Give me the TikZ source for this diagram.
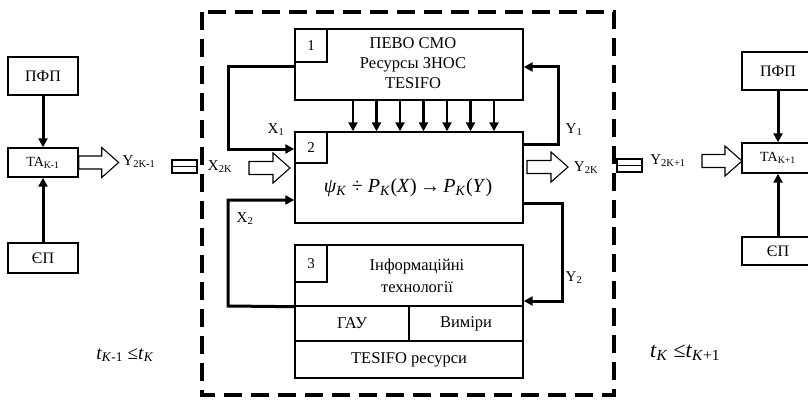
\documentclass[tikz,border=0pt]{standalone}
\usepackage{fontspec}
\setmainfont{Liberation Serif}
\usetikzlibrary{arrows.meta,calc}
\tikzset{
  box/.style={draw, line width=1.4pt, inner sep=0pt},
  fb/.style={line width=3pt, -{Triangle[width=9pt,length=9pt]}},
  lbl/.style={font=\fontsize{15}{17}\selectfont, inner sep=0pt},
  boxtext/.style={font=\fontsize{16.5}{20}\selectfont, align=center, inner sep=0pt},
  pics/harrow/.style={code={\draw[line width=1.1pt, fill=white]
    (0,-6.5) -- (#1-17,-6.5) -- (#1-17,-15) -- (#1,0) -- (#1-17,15) -- (#1-17,6.5) -- (0,6.5) -- cycle;}},
  pics/dconn/.style={code={\draw[line width=1.4pt] (0,0) rectangle (25,13); \draw[line width=1.4pt] (0,6.5) -- (25,6.5);}}
}
\begin{document}
\begin{tikzpicture}[x=1pt,y=-1pt]
\useasboundingbox (0,0) rectangle (808,401);
% dashed frame
\draw[line width=3.8pt, dash pattern=on 18pt off 9pt] (202,12) rectangle (614,395);

% left chain
\node[box, minimum width=70pt, minimum height=38pt, font=\fontsize{16}{18}\selectfont] (pfpL) at (43,76) {ПФП};
\node[box, minimum width=70pt, minimum height=29pt, font=\fontsize{14}{16}\selectfont] (taL) at (43,162.5) {TA\textsubscript{K-1}};
\node[box, minimum width=70pt, minimum height=30pt, font=\fontsize{16}{18}\selectfont] (epL) at (43,258) {ЄП};
\draw[fb] (pfpL) -- (taL);
\draw[fb] (epL) -- (taL);
\pic at (taL.east) {harrow=40};
\node[lbl] (y2km1) at (139,162) {Y\textsubscript{2K-1}};
\pic at (172,160) {dconn};

% right chain
\node[box, minimum width=72pt, minimum height=38pt, font=\fontsize{16}{18}\selectfont] (pfpR) at (778,71) {ПФП};
\node[box, minimum width=72pt, minimum height=30pt, font=\fontsize{14}{16}\selectfont] (taR) at (778,158) {TA\textsubscript{K+1}};
\node[box, minimum width=72pt, minimum height=28pt, font=\fontsize{16}{18}\selectfont] (epR) at (778,251) {ЄП};
\draw[fb] (pfpR) -- (taR);
\draw[fb] (epR) -- (taR);
\coordinate (inR) at (702,161);
\pic at (inR) {harrow=40};
\node[lbl] (y2kp1) at (668,161) {Y\textsubscript{2K+1}};
\pic at (617,159) {dconn};

% block 1
\node[box, minimum width=228pt, minimum height=71pt] (b1) at (409,64.5) {};
\node[box, minimum width=32pt, minimum height=33pt, anchor=north west, font=\fontsize{15}{17}\selectfont] (n1) at (b1.north west) {1};
\node[boxtext] (t1) at (413,63) {ПЕВО СМО\\Ресурсы ЗНОС\\TESIFO};

% block 2
\node[box, minimum width=228pt, minimum height=91pt] (b2) at (409,177.5) {};
\node[box, minimum width=32pt, minimum height=31pt, anchor=north west, font=\fontsize{15}{17}\selectfont] (n2) at (b2.north west) {2};
\node[font=\fontsize{20}{24}\selectfont, inner sep=0pt] (f2) at (408,188)
  {\textit{ψ}\textsubscript{\textit{K}} ÷ \textit{P}\textsubscript{\textit{K}}(\textit{X})\,→\,\textit{P}\textsubscript{\textit{K}}(\textit{Y})};

% block 3
\node[box, minimum width=228pt, minimum height=61pt] (b3top) at (409,275.5) {};
\node[box, minimum width=32pt, minimum height=37pt, anchor=north west, font=\fontsize{15}{17}\selectfont] (n3) at (b3top.north west) {3};
\node[boxtext, text depth=0pt, execute at begin node={\setlength{\baselineskip}{22pt}}] (t3) at (417,276) {Інформаційні\\технології};
\node[box, minimum width=114pt, minimum height=35pt, font=\fontsize{16.5}{20}\selectfont] (gau) at (352,323.5) {ГАУ};
\node[box, minimum width=114pt, minimum height=35pt, font=\fontsize{16.5}{20}\selectfont] (vym) at (466,323.5) {Виміри};
\node[box, minimum width=228pt, minimum height=37pt, font=\fontsize{16.5}{20}\selectfont] (tes) at (409,359.5) {TESIFO ресурси};

% down arrows from 1 to 2
\foreach \x in {353,376.5,400,423.5,447,470.5,494}
  \draw[line width=2.6pt, -{Triangle[width=9pt,length=9pt]}] (\x,0 |- b1.south) -- (\x,0 |- b2.north);

% feedback X1
\coordinate (x1out) at (b1.west |- 0,67);
\coordinate (x1in) at (b2.west |- 0,149);
\draw[fb] (x1out) -- (228,67) |- (x1in);
\node[lbl] (lx1) at (276,130) {X\textsubscript{1}};

% feedback X2
\coordinate (x2in) at (b2.west |- 0,200);
\draw[fb] (b3top.south west) -- (228,306) |- (x2in);
\node[lbl] (lx2) at (245,219) {X\textsubscript{2}};

% feedback Y1
\coordinate (y1out) at (b2.east |- 0,144);
\coordinate (y1in) at (b1.east |- 0,67);
\draw[fb] (y1out) -- (558,144) |- (y1in);
\node[lbl] (ly1) at (574,130) {Y\textsubscript{1}};

% feedback Y2
\coordinate (y2out) at (b2.east |- 0,203);
\coordinate (y2in) at (b3top.east |- 0,301);
\draw[fb] (y2out) -- (562,203) |- (y2in);
\node[lbl] (ly2) at (574,278) {Y\textsubscript{2}};

% inputs/outputs of block 2
\coordinate (inB2) at (249,168);
\pic at (inB2) {harrow=41};
\node[lbl] (x2k) at (220,167) {X\textsubscript{2K}};
\coordinate (outB2) at (527,167);
\pic at (outB2) {harrow=41};
\node[lbl] (y2k) at (586,168) {Y\textsubscript{2K}};

% time labels
\node[font=\fontsize{19}{22}\selectfont, inner sep=0pt] (tl) at (125,355) {\textit{t}\textsubscript{\textit{K}-1} ≤\textit{t}\textsubscript{\textit{K}}};
\node[font=\fontsize{22}{26}\selectfont, inner sep=0pt] (tr) at (685,353) {\textit{t}\textsubscript{\textit{K}} ≤\textit{t}\textsubscript{\textit{K}+1}};
\end{tikzpicture}
\end{document}
